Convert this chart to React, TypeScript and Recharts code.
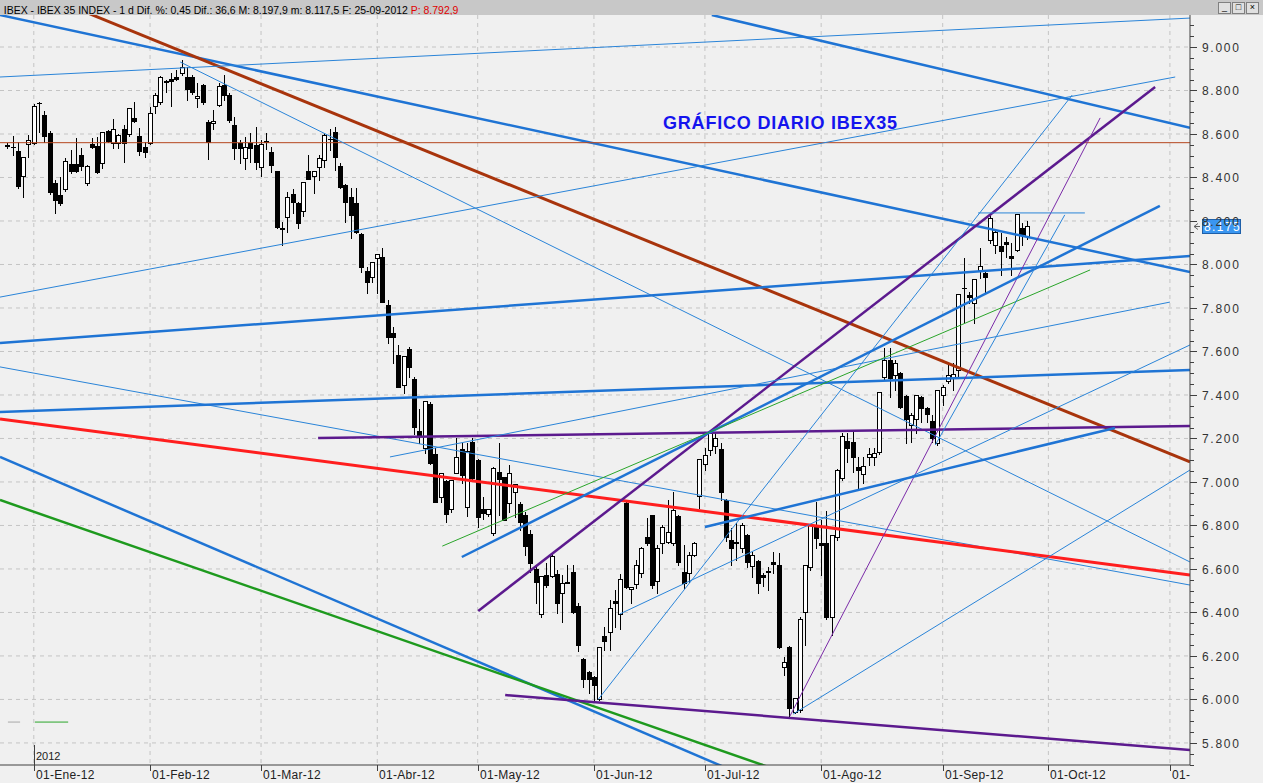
import React from 'react';
import { ComposedChart, Bar, XAxis, YAxis, CartesianGrid, ReferenceLine } from 'recharts';

// ---- daily candles [open, high, low, close], first one is index -5 (23-Dic-11)
const FIRST_INDEX = -5;
const dec11 = [
  [8549, 8560, 8535, 8544], [8542, 8590, 8503, 8538], [8521, 8563, 8351, 8360], [8406, 8494, 8310, 8494], [8554, 8595, 8494, 8572],
];
const jan12 = [
  [8558, 8738, 8555, 8728], [8742, 8747, 8609, 8744], [8687, 8705, 8563, 8590], [8604, 8613, 8325, 8333], [8374, 8388, 8236, 8296],
  [8319, 8402, 8273, 8282], [8347, 8489, 8340, 8475], [8462, 8526, 8420, 8429], [8462, 8581, 8425, 8429], [8503, 8535, 8434, 8452],
  [8374, 8456, 8365, 8452], [8554, 8581, 8535, 8540], [8544, 8586, 8420, 8425], [8466, 8609, 8443, 8609], [8613, 8618, 8563, 8567],
  [8558, 8669, 8535, 8623], [8558, 8600, 8535, 8595], [8623, 8641, 8471, 8558], [8600, 8719, 8590, 8719], [8673, 8747, 8655, 8659],
  [8590, 8627, 8503, 8521], [8540, 8563, 8494, 8517],
];
const feb12 = [
  [8558, 8724, 8555, 8696], [8728, 8788, 8696, 8779], [8747, 8866, 8740, 8862], [8839, 8848, 8793, 8843], [8852, 8880, 8728, 8843],
  [8862, 8894, 8848, 8852], [8880, 8940, 8871, 8908], [8862, 8908, 8756, 8807], [8862, 8871, 8784, 8793], [8765, 8834, 8724, 8774],
  [8825, 8830, 8740, 8747], [8655, 8664, 8485, 8563], [8650, 8710, 8623, 8659], [8733, 8834, 8730, 8820], [8825, 8871, 8756, 8779],
  [8779, 8788, 8655, 8664], [8641, 8678, 8485, 8535], [8558, 8572, 8466, 8535], [8489, 8586, 8439, 8540], [8558, 8604, 8471, 8535],
  [8549, 8632, 8439, 8471],
];
const mar12 = [
  [8448, 8572, 8406, 8554], [8567, 8604, 8531, 8565], [8517, 8540, 8425, 8457], [8429, 8432, 8168, 8172], [8167, 8195, 8089, 8165],
  [8218, 8333, 8149, 8310], [8324, 8347, 8236, 8287], [8282, 8287, 8167, 8190], [8245, 8379, 8222, 8379], [8429, 8503, 8393, 8393],
  [8406, 8429, 8328, 8429], [8448, 8503, 8388, 8489], [8480, 8604, 8448, 8595], [8577, 8623, 8526, 8579], [8609, 8632, 8434, 8494],
  [8452, 8466, 8351, 8356], [8365, 8368, 8195, 8287], [8310, 8351, 8121, 8227], [8282, 8351, 8144, 8149], [8140, 8144, 7965, 7988],
  [7969, 7988, 7868, 7919], [7942, 8011, 7919, 8011],
];
const apr12 = [
  [8029, 8048, 7868, 8048], [8034, 8075, 7827, 7827], [7813, 7836, 7638, 7666], [7684, 7712, 7546, 7666], [7583, 7629, 7436, 7436],
  [7445, 7578, 7408, 7578], [7611, 7620, 7482, 7528], [7473, 7482, 7220, 7252], [7233, 7335, 7178, 7210], [7155, 7371, 7132, 7371],
  [7358, 7367, 7082, 7086], [7128, 7155, 6907, 6907], [6930, 7040, 6907, 7040], [7004, 7009, 6815, 6852], [6875, 7009, 6861, 7009],
  [7040, 7201, 7040, 7114], [7151, 7178, 6994, 7031], [6884, 7178, 6842, 7141], [7183, 7201, 7008, 7017],
];
const may12 = [
  [7100, 7105, 6792, 6838], [6875, 6930, 6829, 6856], [6852, 6875, 6845, 6875], [6764, 7068, 6755, 7063], [7045, 7178, 6847, 7013],
  [7022, 7025, 6824, 6824], [6902, 7077, 6861, 7040], [6953, 6990, 6838, 6990], [6898, 6907, 6778, 6815], [6847, 6861, 6663, 6705],
  [6760, 6778, 6585, 6626], [6599, 6617, 6442, 6539], [6392, 6566, 6378, 6566], [6571, 6626, 6516, 6525], [6566, 6672, 6562, 6658],
  [6576, 6594, 6396, 6442], [6488, 6571, 6355, 6534], [6539, 6617, 6534, 6537], [6585, 6617, 6396, 6401], [6428, 6442, 6221, 6249],
  [6185, 6190, 6056, 6093], [6125, 6130, 6028, 6093],
];
const jun12 = [
  [6102, 6110, 5991, 6065], [6001, 6240, 5996, 6240], [6290, 6332, 6226, 6267], [6309, 6456, 6226, 6419], [6451, 6502, 6332, 6442],
  [6392, 6576, 6323, 6553], [6903, 6908, 6512, 6516], [6507, 6516, 6442, 6516], [6531, 6640, 6512, 6619], [6580, 6700, 6562, 6695],
  [6746, 6833, 6709, 6718], [6847, 6850, 6512, 6525], [6544, 6709, 6488, 6695], [6718, 6801, 6672, 6792], [6723, 6916, 6718, 6769],
  [6718, 6953, 6709, 6870], [6842, 6850, 6617, 6631], [6585, 6709, 6511, 6534], [6580, 6677, 6539, 6663], [6663, 6723, 6658, 6718],
  [6934, 7107, 6879, 7105],
];
const jul12 = [
  [7082, 7155, 7054, 7123], [7146, 7229, 7123, 7224], [7164, 7224, 7132, 7201], [7151, 7178, 6916, 6953], [6916, 6921, 6728, 6746],
  [6732, 6787, 6617, 6695], [6722, 6811, 6640, 6720], [6695, 6811, 6677, 6801], [6755, 6760, 6608, 6631], [6612, 6677, 6562, 6663],
  [6636, 6640, 6488, 6534], [6571, 6580, 6521, 6562], [6590, 6608, 6502, 6588], [6631, 6677, 6580, 6622], [6617, 6672, 6235, 6240],
  [6148, 6194, 6111, 6171], [6240, 6245, 5915, 5960], [5942, 6006, 5937, 6006], [5951, 6378, 5942, 6369], [6401, 6617, 6249, 6617],
  [6608, 6801, 6594, 6801], [6801, 6907, 6695, 6741],
];
const aug12 = [
  [6718, 6824, 6571, 6709], [6718, 6866, 6369, 6378], [6378, 6755, 6295, 6755], [6746, 7059, 6732, 7054], [7018, 7225, 7008, 7211],
  [7188, 7225, 7092, 7155], [7183, 7229, 7045, 7114], [7068, 7114, 6967, 7054], [7036, 7114, 6994, 7072], [7114, 7155, 7077, 7128],
  [7114, 7155, 7077, 7132], [7138, 7415, 7128, 7413], [7482, 7616, 7469, 7560], [7560, 7616, 7390, 7478], [7491, 7560, 7423, 7546],
  [7501, 7505, 7340, 7345], [7395, 7400, 7179, 7289], [7262, 7317, 7184, 7308], [7289, 7400, 7225, 7400], [7390, 7395, 7275, 7340],
  [7340, 7344, 7275, 7312], [7280, 7307, 7183, 7201], [7178, 7422, 7169, 7422],
];
const sep12 = [
  [7400, 7445, 7354, 7436], [7464, 7547, 7455, 7491], [7478, 7547, 7423, 7496], [7515, 7866, 7482, 7864], [7890, 8030, 7731, 7892],
  [7859, 7873, 7823, 7850], [7823, 7935, 7731, 7933], [7974, 8076, 7938, 7993], [7961, 7974, 7873, 7942], [8112, 8236, 8099, 8213],
  [8089, 8152, 8053, 8149], [8085, 8144, 7951, 8062], [8103, 8126, 8034, 8094], [8039, 8099, 7951, 8030], [8066, 8234, 8062, 8232],
  [8168, 8191, 8089, 8138], [8130, 8198, 8118, 8175],
];

// ---- axes
const monthTicks = [0, 22, 43, 65, 84, 106, 127, 149, 172, 192, 215];
const monthLabels = ['01-Ene-12', '01-Feb-12', '01-Mar-12', '01-Abr-12', '01-May-12', '01-Jun-12', '01-Jul-12', '01-Ago-12', '01-Sep-12', '01-Oct-12', '01-'];
const yearLabel = '2012';
const gridPrices = [5800, 6000, 6200, 6400, 6600, 6800, 7000, 7200, 7400, 7600, 7800, 8000, 8200, 8400, 8600, 8800, 9000];
const axisTicks = [
  5700, 5750, 5800, 5850, 5900, 5950, 6000, 6050, 6100, 6150, 6200, 6250, 6300, 6350, 6400, 6450, 6500, 6550, 6600, 6650,
  6700, 6750, 6800, 6850, 6900, 6950, 7000, 7050, 7100, 7150, 7200, 7250, 7300, 7350, 7400, 7450, 7500, 7550, 7600, 7650,
  7700, 7750, 7800, 7850, 7900, 7950, 8000, 8050, 8100, 8150, 8200, 8250, 8300, 8350, 8400, 8450, 8500, 8550, 8600, 8650,
  8700, 8750, 8800, 8850, 8900, 8950, 9000, 9050, 9100,
];
const X_DOMAIN = [-6.4, 218.8];
const Y_DOMAIN = [5698.6, 9147.1];

// ---- drawn trend lines: [index, price] endpoints
type TL = { kind: string; from: [number, number]; to: [number, number] };
const trendLines: TL[] = [
  { kind: 'thickBlue', from: [-6.4, 9147], to: [218.8, 7965] },
  { kind: 'brown', from: [10.6, 9152], to: [218.8, 7092] },
  { kind: 'brownThin', from: [-6.4, 8560], to: [218.8, 8560] },
  { kind: 'thinBlue', from: [-6.4, 8862], to: [218.8, 9133] },
  { kind: 'thickBlue', from: [128.3, 9147], to: [218.8, 8628] },
  { kind: 'thinBlue', from: [-6.4, 7850], to: [216.0, 8862] },
  { kind: 'thinBlue', from: [27.7, 8931], to: [218.8, 6632] },
  { kind: 'thinBlue', from: [-6.4, 7529], to: [218.8, 6526] },
  { kind: 'thickBlue', from: [-6.4, 7639], to: [218.8, 8039] },
  { kind: 'thickBlue', from: [-6.4, 7322], to: [218.8, 7515] },
  { kind: 'red', from: [-6.4, 7290], to: [218.8, 6572] },
  { kind: 'purple', from: [53.8, 7202], to: [218.8, 7257] },
  { kind: 'thickBlue', from: [-6.4, 7115], to: [141.2, 5579] },
  { kind: 'green', from: [-6.4, 6917], to: [145.0, 5639] },
  { kind: 'purple', from: [89.2, 6020], to: [218.8, 5768] },
  { kind: 'purple', from: [84.1, 6407], to: [212.2, 8816] },
  { kind: 'purpleThin', from: [143.1, 5924], to: [201.8, 8674] },
  { kind: 'thinBlue', from: [143.7, 5933], to: [218.8, 7055] },
  { kind: 'thinBlue', from: [106.8, 6000], to: [196.5, 8779] },
  { kind: 'thinBlue', from: [110.9, 6393], to: [218.8, 7630] },
  { kind: 'thinBlue', from: [67.4, 7115], to: [215.0, 7827] },
  { kind: 'thickBlue', from: [81.0, 6655], to: [213.1, 8269] },
  { kind: 'greenThin', from: [77.3, 6705], to: [199.9, 7975] },
  { kind: 'thickBlue', from: [127.0, 6793], to: [204.6, 7248] },
  { kind: 'thinBlue', from: [178.7, 8237], to: [198.9, 8237] },
  { kind: 'thinBlue', from: [170.6, 7170], to: [195.1, 8228] },
  { kind: 'gray', from: [-4.9, 5896], to: [-2.6, 5896] },
  { kind: 'greenThin', from: [0.2, 5896], to: [6.5, 5896] },
];

const lineStyles: Record<string, { stroke: string; strokeWidth: number }> = {
  thickBlue: { stroke: '#1F74D4', strokeWidth: 2.5 },
  thinBlue: { stroke: '#2A84D8', strokeWidth: 1 },
  brown: { stroke: '#A8340C', strokeWidth: 3 },
  brownThin: { stroke: '#B4461E', strokeWidth: 1 },
  red: { stroke: '#FF1E1E', strokeWidth: 3 },
  purple: { stroke: '#5C1A8E', strokeWidth: 2.5 },
  purpleThin: { stroke: '#7B2BA8', strokeWidth: 1 },
  green: { stroke: '#1E9A1E', strokeWidth: 2.5 },
  greenThin: { stroke: '#2AA52A', strokeWidth: 1 },
  gray: { stroke: '#A8A8A8', strokeWidth: 1 },
};

const candles = [dec11, jan12, feb12, mar12, apr12, may12, jun12, jul12, aug12, sep12].flat();
const data = candles.map((c, k) => ({ i: FIRST_INDEX + k, o: c[0], h: c[1], l: c[2], c: c[3], range: [c[2], c[1]] }));
const lastClose = candles[candles.length - 1][3];

const fmtPrice = (v: number) => {
  const t = Math.floor(v / 1000);
  const r = String(Math.round(v % 1000)).padStart(3, '0');
  return `${t}.${r}`;
};

const Candle = (props: any) => {
  const { x, y, width, height, payload } = props;
  if (!payload || x == null) return null;
  const { o, h, l, c } = payload;
  const top0 = height < 0 ? y + height : y;
  const hgt = Math.abs(height);
  const k = hgt / (h - l);
  const cx = Math.round(x + width / 2);
  const yo = top0 + (h - o) * k;
  const yc = top0 + (h - c) * k;
  const bt = Math.round(Math.min(yo, yc));
  const bb = Math.round(Math.max(yo, yc));
  const up = c >= o;
  return (
    <g>
      <line x1={cx + 0.5} x2={cx + 0.5} y1={Math.round(top0)} y2={Math.round(top0 + hgt) + 1} stroke="#000" strokeWidth={1} />
      {bb - bt < 1 ? (
        <line x1={cx - 2} x2={cx + 3} y1={bt + 0.5} y2={bt + 0.5} stroke="#000" strokeWidth={1} />
      ) : (
        <rect x={cx - 1.5} y={bt + 0.5} width={4} height={bb - bt} fill={up ? '#FFFFFF' : '#000000'} stroke="#000" strokeWidth={1} />
      )}
    </g>
  );
};

const XTick = (props: any) => {
  const { x, y, payload } = props;
  const k = monthTicks.indexOf(payload.value);
  const xx = Math.round(x) + 0.5;
  return (
    <g>
      <line x1={xx} x2={xx} y1={y} y2={y + 6} stroke="#404040" />
      <text x={xx + 1.5} y={y + 14} fontSize={12} letterSpacing={0.3} fill="#222" fontFamily="Arial, 'Liberation Sans', sans-serif">
        {monthLabels[k]}
      </text>
      {payload.value === 0 && (
        <g>
          <line x1={xx} x2={xx} y1={y - 20} y2={y} stroke="#404040" />
          <text x={xx + 1.5} y={y - 5} fontSize={11} fill="#222" fontFamily="Arial, 'Liberation Sans', sans-serif">
            {yearLabel}
          </text>
        </g>
      )}
    </g>
  );
};

const YTick = (props: any) => {
  const { x, y, payload } = props;
  const v = payload.value;
  const major = v % 200 === 0;
  const yy = Math.round(y) + 0.5;
  return (
    <g>
      <line x1={x} x2={x + (major ? 7 : 4)} y1={yy} y2={yy} stroke="#404040" />
      {major && (
        <text x={x + 12} y={yy + 4.5} fontSize={12} letterSpacing={1.7} fill="#333" fontFamily="Arial, 'Liberation Sans', sans-serif">
          {fmtPrice(v)}
        </text>
      )}
    </g>
  );
};

const PriceTag = (props: any) => {
  const vb = props.viewBox || {};
  const yv = Math.round(vb.y) + 0.5;
  const xr = vb.x + vb.width;
  return (
    <g>
      <path d={`M${xr + 4} ${yv} l4 -3 M${xr + 4} ${yv} l4 3 M${xr + 4} ${yv} h6`} stroke="#606060" fill="none" />
      <rect x={xr + 12.5} y={yv - 7} width={38} height={14} fill="#3A96F0" stroke="#1E5FA8" />
      <text x={xr + 14} y={yv + 4.5} fill="#FFFFFF" fontSize={12} letterSpacing={1.4} fontFamily="Arial, 'Liberation Sans', sans-serif">
        {fmtPrice(lastClose)}
      </text>
    </g>
  );
};

const headerText = 'IBEX - IBEX 35 INDEX - 1 d Dif. %: 0,45 Dif.: 36,6 M: 8.197,9 m: 8.117,5 F: 25-09-2012 ';
const headerExtra = 'P: 8.792,9';
const chartTitle = 'GRÁFICO DIARIO IBEX35';

export default function App() {
  return (
    <div style={{ position: 'absolute', left: 0, top: 0, width: 1263, height: 783, background: '#F0F0F0', overflow: 'hidden', fontFamily: "Arial, 'Liberation Sans', sans-serif" }}>
      <ComposedChart width={1263} height={783} data={data} margin={{ top: 15, right: 0, bottom: 0, left: 0 }}>
        <CartesianGrid horizontalValues={gridPrices} verticalValues={monthTicks} stroke="#C4C4C4" strokeDasharray="4 4" />
        <XAxis
          type="number"
          dataKey="i"
          domain={X_DOMAIN}
          allowDataOverflow
          ticks={monthTicks}
          interval={0}
          tick={<XTick />}
          tickLine={false}
          tickSize={0}
          tickMargin={0}
          height={18}
          axisLine={{ stroke: '#404040' }}
        />
        <YAxis
          orientation="right"
          type="number"
          domain={Y_DOMAIN}
          allowDataOverflow
          ticks={axisTicks}
          interval={0}
          tick={<YTick />}
          tickLine={false}
          tickSize={0}
          tickMargin={0}
          width={73}
          axisLine={{ stroke: '#404040' }}
        />
        <Bar dataKey="range" barSize={5} isAnimationActive={false} shape={(p: any) => <Candle {...p} />} />
        {trendLines.map((t, n) => (
          <ReferenceLine
            key={n}
            segment={[{ x: t.from[0], y: t.from[1] }, { x: t.to[0], y: t.to[1] }]}
            stroke={lineStyles[t.kind].stroke}
            strokeWidth={lineStyles[t.kind].strokeWidth}
            ifOverflow="hidden"
          />
        ))}
        <ReferenceLine y={lastClose} stroke="none" ifOverflow="visible" label={<PriceTag />} />
      </ComposedChart>
      <div style={{ position: 'absolute', left: 0, top: 0, width: 1263, height: 15, background: '#C8C8C8', whiteSpace: 'nowrap', overflow: 'hidden' }}>
        <span style={{ display: 'inline-block', transform: 'scaleX(0.95)', transformOrigin: 'left center', fontSize: 11, lineHeight: '15px', paddingLeft: 4, color: '#000' }}>
          {headerText}
          <span style={{ color: '#E00000' }}>{headerExtra}</span>
        </span>
        <div style={{ position: 'absolute', right: 4, top: 2, display: 'flex', gap: 1 }}>
          {['_', '□', '×'].map((g, n) => (
            <div key={n} style={{ width: 11, height: 10, border: '1px solid #808080', background: '#E0E0E0', fontSize: 9, lineHeight: '9px', textAlign: 'center', color: '#000' }}>{g}</div>
          ))}
        </div>
      </div>
      <div style={{ position: 'absolute', left: 663, top: 113, fontSize: 18, letterSpacing: 0.8, fontWeight: 'bold', color: '#1414EE', lineHeight: '21px', whiteSpace: 'nowrap' }}>
        {chartTitle}
      </div>
    </div>
  );
}
